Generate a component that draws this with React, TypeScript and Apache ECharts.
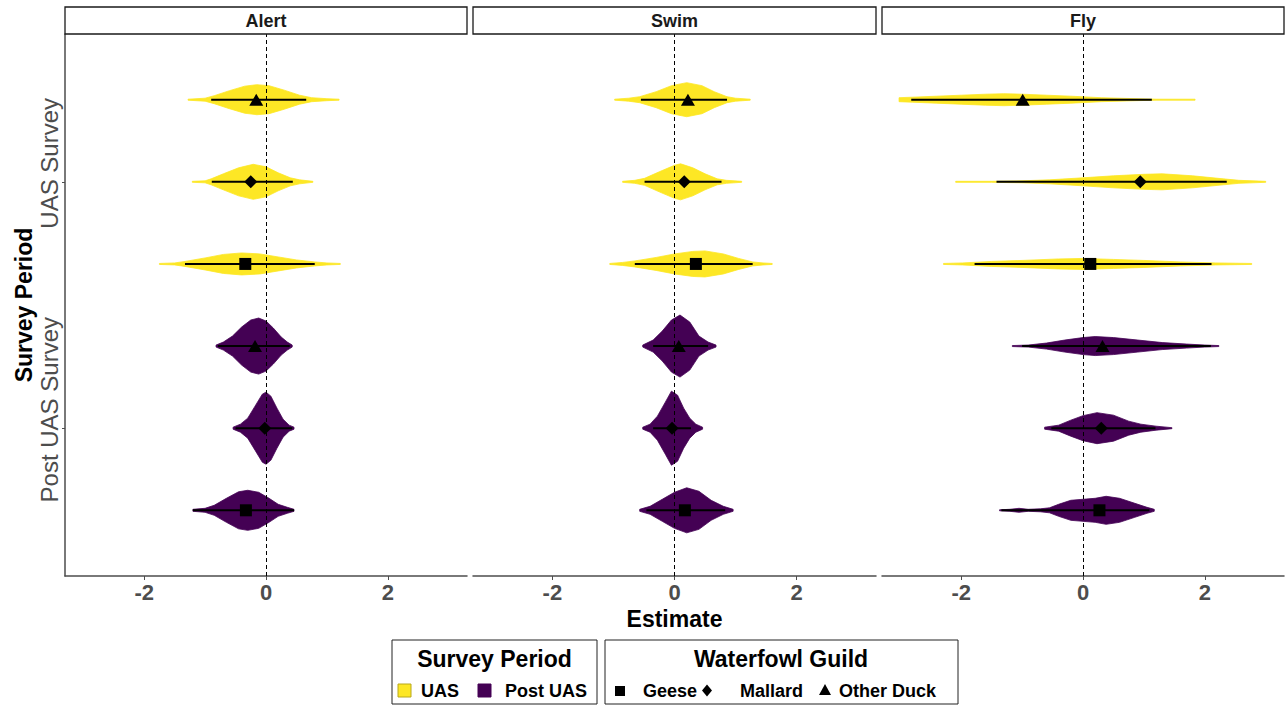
import React, { useEffect, useRef } from "react";
import * as echarts from "echarts";

// ---------- data ----------
const facets = ["Alert", "Swim", "Fly"];
const periods = ["UAS Survey", "Post UAS Survey"]; // top to bottom
const periodLegend = ["UAS", "Post UAS"];
const guilds = ["Geese", "Mallard", "Other Duck"];
const xTicks = [-2, 0, 2];
const yTicks = [1, 2];

// [period][guild] : posterior mean
const alertEst = [[-0.34, -0.25, -0.16], [-0.33, -0.02, -0.18]];
const alertLow = [[-1.33, -0.89, -0.9], [-1.2, -0.5, -0.79]];
const alertHigh = [[0.8, 0.44, 0.66], [0.46, 0.43, 0.39]];

const swimEst = [[0.35, 0.16, 0.22], [0.17, -0.04, 0.07]];
const swimLow = [[-0.65, -0.49, -0.55], [-0.46, -0.35, -0.35]];
const swimHigh = [[1.28, 0.77, 0.86], [0.83, 0.27, 0.55]];

const flyEst = [[0.12, 0.94, -0.99], [0.27, 0.3, 0.32]];
const flyLow = [[-1.78, -1.42, -2.82], [-1.34, -0.52, -1.0]];
const flyHigh = [[2.11, 2.36, 1.13], [1.09, 1.19, 2.1]];

// violin profiles: [period][guild] -> list of [estimate, scaled density]
const alertViolins = [
  [
    [[-1.75, 0.5], [-1.5, 1], [-1.33, 2.5], [-1.0, 6], [-0.7, 9.5], [-0.4, 11], [-0.1, 10], [0.2, 7], [0.5, 4], [0.8, 2], [1.0, 1], [1.22, 0.5]],
    [[-1.21, 0.5], [-1.0, 1], [-0.9, 3], [-0.7, 8], [-0.45, 14], [-0.21, 17.5], [0.0, 15], [0.2, 9], [0.4, 4], [0.55, 2], [0.77, 0.5]],
    [[-1.28, 0.5], [-1.0, 1.5], [-0.85, 4], [-0.6, 9], [-0.35, 13.5], [-0.15, 15], [0.05, 14], [0.3, 9.5], [0.55, 4.5], [0.75, 2], [1.0, 1], [1.2, 0.5]],
  ],
  [
    [[-1.2, 1], [-1.0, 2], [-0.85, 5], [-0.65, 12], [-0.45, 18.5], [-0.3, 20], [-0.12, 18], [0.05, 12], [0.2, 6], [0.35, 3], [0.46, 1]],
    [[-0.54, 1], [-0.42, 4], [-0.3, 10], [-0.18, 22], [-0.06, 34], [0.0, 36], [0.08, 32], [0.18, 20], [0.28, 9], [0.38, 3], [0.46, 1]],
    [[-0.82, 1], [-0.7, 4], [-0.55, 10], [-0.4, 19], [-0.25, 26], [-0.12, 28], [0.0, 25], [0.12, 18], [0.25, 9], [0.35, 4], [0.43, 1]],
  ],
];

const swimViolins = [
  [
    [[-1.06, 0.5], [-0.85, 1.5], [-0.65, 3], [-0.3, 6.5], [0.0, 10], [0.3, 12.5], [0.5, 13], [0.8, 10], [1.05, 5.5], [1.28, 2], [1.45, 1], [1.6, 0.5]],
    [[-0.85, 0.5], [-0.65, 1.5], [-0.49, 3.5], [-0.25, 10], [0.0, 16.5], [0.1, 18], [0.3, 14], [0.5, 8], [0.7, 3], [0.85, 1.5], [1.1, 0.5]],
    [[-0.98, 0.5], [-0.75, 1.5], [-0.57, 3], [-0.3, 8], [-0.05, 14], [0.2, 17], [0.45, 14], [0.65, 8], [0.86, 3], [1.0, 1.5], [1.24, 0.5]],
  ],
  [
    [[-0.57, 1], [-0.4, 4], [-0.2, 11], [0.0, 18], [0.2, 22.5], [0.4, 19], [0.6, 10], [0.8, 4], [0.96, 1]],
    [[-0.52, 1], [-0.4, 4], [-0.28, 12], [-0.15, 26], [-0.05, 37], [0.05, 33], [0.15, 20], [0.25, 10], [0.35, 4], [0.46, 1]],
    [[-0.52, 1], [-0.35, 6], [-0.2, 15], [-0.05, 26], [0.09, 31], [0.25, 24], [0.4, 10], [0.55, 4], [0.68, 1]],
  ],
];

const flyViolins = [
  [
    [[-2.29, 0.5], [-1.98, 1], [-1.5, 2.5], [-1.0, 3.5], [-0.4, 5], [0.0, 5.5], [0.5, 4.5], [1.0, 3.5], [1.6, 2], [2.18, 1], [2.77, 0.5]],
    [[-2.09, 0.5], [-1.5, 0.5], [-1.0, 1], [-0.55, 2], [0.0, 4], [0.5, 6], [1.0, 7.5], [1.3, 8], [1.8, 6], [2.3, 3], [2.56, 1.5], [3.0, 0.5]],
    [[-3.02, 2], [-2.8, 2.5], [-2.4, 3.5], [-2.0, 4.5], [-1.6, 5.5], [-1.3, 6], [-1.0, 5.5], [-0.6, 4.5], [-0.2, 3.5], [0.3, 2], [0.87, 1], [1.2, 0.5], [1.84, 0.5]],
  ],
  [
    [[-1.37, 0.5], [-1.2, 1], [-1.05, 2], [-0.9, 1], [-0.7, 1.5], [-0.55, 2.5], [-0.4, 6], [-0.2, 10], [0.0, 11], [0.2, 12], [0.38, 14], [0.6, 12], [0.85, 7], [1.05, 3], [1.17, 1]],
    [[-0.63, 1], [-0.4, 3], [-0.2, 8], [0.0, 12.5], [0.23, 15.5], [0.5, 13], [0.75, 7], [0.95, 4], [1.2, 2], [1.46, 0.5]],
    [[-1.16, 0.5], [-0.9, 1], [-0.6, 3], [-0.3, 6], [0.0, 8.5], [0.2, 9.5], [0.5, 8.5], [0.9, 6], [1.3, 3.5], [1.7, 2], [2.0, 1], [2.23, 0.5]],
  ],
];

// ---------- styling ----------
const periodColors = ["#FDE725", "#440154"];
const guildSymbols = ["rect", "diamond", "triangle"];
const guildSizes: any[] = [12, 13, [14, 12]];
const FONT = "'Liberation Sans', Arial, Helvetica, sans-serif";
const AXIS_GREY = "#4d4d4d";
const DENSITY_SCALE = 1 / 246; // density units -> y units
const DODGE = 1 / 3;
const Y_LABEL_SHIFT = 0.075; // category labels sit slightly above their ticks

const panelData = [
  { est: alertEst, low: alertLow, high: alertHigh, violins: alertViolins },
  { est: swimEst, low: swimLow, high: swimHigh, violins: swimViolins },
  { est: flyEst, low: flyLow, high: flyHigh, violins: flyViolins },
];

const gridBoxes = [
  { left: 65, width: 402 },
  { left: 473, width: 403 },
  { left: 882, width: 402 },
];
const GRID_TOP = 34;
const GRID_H = 542;

function periodY(p: number) {
  return periods.length - p; // UAS = 2, Post = 1
}

function buildOption() {
  const grid: any[] = [];
  const xAxis: any[] = [];
  const yAxis: any[] = [];
  const series: any[] = [];
  const graphic: any[] = [];

  facets.forEach((facet, fi) => {
    const gb = gridBoxes[fi];
    grid.push({ left: gb.left, top: GRID_TOP, width: gb.width, height: GRID_H, containLabel: false });
    xAxis.push({
      type: "value",
      gridIndex: fi,
      min: -3.3,
      max: 3.3,
      splitLine: { show: false },
      axisLine: { show: true, onZero: false, lineStyle: { color: AXIS_GREY, width: 1.5 } },
      axisTick: { show: true, customValues: xTicks, length: 4, lineStyle: { color: AXIS_GREY, width: 1 } },
      axisLabel: {
        customValues: xTicks,
        fontSize: 22,
        fontWeight: "bold",
        color: AXIS_GREY,
        margin: 5,
        fontFamily: FONT,
      },
      name: fi === 1 ? "Estimate" : "",
      nameLocation: "middle",
      nameGap: 29,
      nameTextStyle: { fontSize: 23, fontWeight: "bold", color: "#000", fontFamily: FONT },
    });
    yAxis.push({
      type: "value",
      gridIndex: fi,
      min: 0.4,
      max: 2.6,
      splitLine: { show: false },
      axisLine: { show: fi === 0, onZero: false, lineStyle: { color: AXIS_GREY, width: 1.5 } },
      axisTick: { show: fi === 0, customValues: yTicks, length: 3, lineStyle: { color: AXIS_GREY } },
      axisLabel: {
        show: fi === 0,
        customValues: yTicks.map((t) => t + Y_LABEL_SHIFT),
        rotate: 90,
        margin: 4,
        fontSize: 24,
        color: AXIS_GREY,
        fontFamily: FONT,
        formatter: (v: number) => periods[periods.length - Math.round(v)],
      },
      name: fi === 0 ? "Survey Period" : "",
      nameLocation: "middle",
      nameRotate: 90,
      nameGap: 30,
      nameTextStyle: { fontSize: 23, fontWeight: "bold", color: "#000", fontFamily: FONT },
    });

    const pd = panelData[fi];
    const flat: any[] = [];
    const customData: any[] = [];
    periods.forEach((_, p) => {
      guilds.forEach((_, g) => {
        const y = periodY(p) + (g - 1) * DODGE;
        flat.push({
          y,
          profile: pd.violins[p][g],
          lo: pd.low[p][g],
          hi: pd.high[p][g],
          color: periodColors[p],
        });
        customData.push([pd.est[p][g], y, flat.length - 1]);
      });
    });

    series.push({
      type: "custom",
      name: facet + " violins",
      xAxisIndex: fi,
      yAxisIndex: fi,
      z: 2,
      silent: true,
      encode: { x: 0, y: 1 },
      data: customData,
      renderItem: (params: any, api: any) => {
        const v = flat[api.value(2) as number];
        const top = v.profile.map((pt: number[]) => api.coord([pt[0], v.y + pt[1] * DENSITY_SCALE]));
        const bot = v.profile
          .slice()
          .reverse()
          .map((pt: number[]) => api.coord([pt[0], v.y - pt[1] * DENSITY_SCALE]));
        const a = api.coord([v.lo, v.y]);
        const b = api.coord([v.hi, v.y]);
        return {
          type: "group",
          children: [
            {
              type: "polygon",
              shape: { points: top.concat(bot) },
              style: { fill: v.color, stroke: v.color, lineWidth: 0.8 },
            },
            {
              type: "line",
              shape: { x1: a[0], y1: a[1], x2: b[0], y2: b[1] },
              style: { stroke: "#000", lineWidth: 2 },
            },
          ],
        };
      },
      markLine: {
        silent: true,
        symbol: "none",
        label: { show: false },
        lineStyle: { type: [4, 3], color: "#000", width: 1 },
        data: [{ xAxis: 0 }],
      },
    });

    guilds.forEach((gName, g) => {
      series.push({
        type: "scatter",
        name: facet + " " + gName,
        xAxisIndex: fi,
        yAxisIndex: fi,
        z: 4,
        silent: true,
        symbol: guildSymbols[g],
        symbolSize: guildSizes[g],
        itemStyle: { color: "#000", opacity: 1 },
        data: periods.map((_, p) => [pd.est[p][g], periodY(p) + (g - 1) * DODGE]),
      });
    });

    // strip
    graphic.push({
      type: "rect",
      shape: { x: gb.left, y: 7, width: gb.width, height: 27 },
      style: { fill: "#fff", stroke: "#1a1a1a", lineWidth: 1.3 },
      z: 10,
    });
    graphic.push({
      type: "text",
      x: gb.left + gb.width / 2,
      y: 21,
      style: {
        text: facet,
        font: `bold 18px ${FONT}`,
        fill: "#1a1a1a",
        align: "center",
        verticalAlign: "middle",
      },
      z: 11,
    });
  });

  // legend: Survey Period
  graphic.push({
    type: "rect",
    shape: { x: 392, y: 640, width: 205, height: 64 },
    style: { fill: "#fff", stroke: "#222", lineWidth: 1 },
  });
  graphic.push({
    type: "text",
    x: 494.5,
    y: 659,
    style: { text: "Survey Period", font: `bold 23px ${FONT}`, fill: "#000", align: "center", verticalAlign: "middle" },
  });
  const pKeyX = [398, 478];
  const pTextX = [421, 505];
  periodLegend.forEach((lab, p) => {
    graphic.push({
      type: "rect",
      shape: { x: pKeyX[p], y: 684, width: 13, height: 13 },
      style: { fill: periodColors[p], stroke: p === 0 ? "#b8a81c" : periodColors[p], lineWidth: 1 },
    });
    graphic.push({
      type: "text",
      x: pTextX[p],
      y: 691,
      style: { text: lab, font: `bold 18px ${FONT}`, fill: "#000", align: "left", verticalAlign: "middle" },
    });
  });

  // legend: Waterfowl Guild
  graphic.push({
    type: "rect",
    shape: { x: 605, y: 640, width: 353, height: 64 },
    style: { fill: "#fff", stroke: "#222", lineWidth: 1 },
  });
  graphic.push({
    type: "text",
    x: 781,
    y: 659,
    style: { text: "Waterfowl Guild", font: `bold 23px ${FONT}`, fill: "#000", align: "center", verticalAlign: "middle" },
  });
  graphic.push({ type: "rect", shape: { x: 615, y: 686, width: 10, height: 10 }, style: { fill: "#000" } });
  graphic.push({
    type: "polygon",
    shape: { points: [[707, 684.5], [712, 690.5], [707, 696.5], [702, 690.5]] },
    style: { fill: "#000" },
  });
  graphic.push({
    type: "polygon",
    shape: { points: [[825, 684], [831, 695], [819, 695]] },
    style: { fill: "#000" },
  });
  const gTextX = [643, 740, 839];
  guilds.forEach((gName, g) => {
    graphic.push({
      type: "text",
      x: gTextX[g],
      y: 691,
      style: { text: gName, font: `bold 18px ${FONT}`, fill: "#000", align: "left", verticalAlign: "middle" },
    });
  });

  return {
    animation: false,
    backgroundColor: "#fff",
    textStyle: { fontFamily: FONT },
    grid,
    xAxis,
    yAxis,
    series,
    graphic,
  };
}

export default function App() {
  const ref = useRef<HTMLDivElement>(null);
  useEffect(() => {
    if (!ref.current) return;
    const chart = echarts.init(ref.current, undefined, { renderer: "svg" });
    chart.setOption(buildOption() as any);
    return () => chart.dispose();
  }, []);
  return (
    <div
      ref={ref}
      style={{ position: "fixed", left: 0, top: 0, width: 1285, height: 706, background: "#fff" }}
    />
  );
}
